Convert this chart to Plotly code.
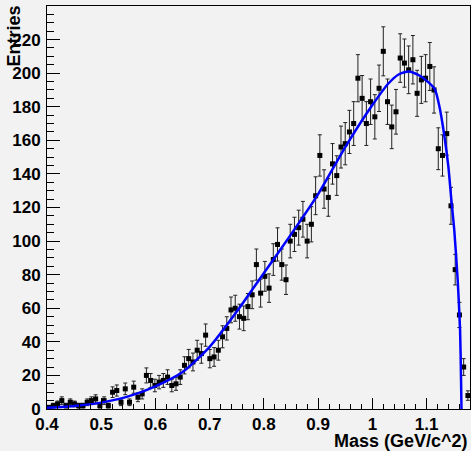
import numpy as np
import plotly.graph_objects as go

# Histogram binning: 100 bins over the mass window
mass_low = 0.4
mass_high = 1.18
n_bins = 100

entries = [
    1, 2, 3, 5, 2, 4, 3, 2, 2, 4,
    5, 6, 2, 5, 2, 10, 11, 4, 12, 4,
    13, 7, 9, 20, 17, 14, 16, 17, 19, 14,
    15, 19, 26, 30, 28, 35, 33, 44, 30, 31,
    35, 43, 48, 59, 60, 55, 54, 61, 68, 86,
    69, 79, 72, 89, 98, 86, 77, 100, 104, 108,
    113, 100, 110, 127, 151, 131, 126, 146, 139, 156,
    158, 165, 170, 197, 185, 170, 183, 174, 191, 213,
    183, 168, 177, 209, 206, 202, 208, 188, 196, 197,
    204, 190, 155, 151, 164, 121, 83, 56, 25, 8,
]

# Fitted curve, sampled along the mass axis
fit_mass = [0.400, 0.450, 0.500, 0.550, 0.600, 0.650, 0.700, 0.750, 0.800,
            0.850, 0.900, 0.950, 1.000, 1.030, 1.050, 1.068, 1.090, 1.1146,
            1.1238, 1.133, 1.1402, 1.1452, 1.151, 1.1573, 1.1617, 1.1635, 1.1643]
fit_entries = [0.8, 1.8, 3.8, 7.5, 13.5, 22, 37, 58, 81,
               104, 128, 156, 181, 194, 199.5, 201, 198, 190.8,
               179.8, 162, 144, 126, 106.6, 76.8, 47.1, 17.4, 0]

edges = np.linspace(mass_low, mass_high, n_bins + 1)
centers = 0.5 * (edges[:-1] + edges[1:])
counts = np.array(entries, dtype=float)
errors = np.sqrt(counts)

font_family = "Liberation Sans"

fig = go.Figure()

fig.add_trace(go.Scatter(
    x=centers, y=counts,
    mode="markers",
    marker=dict(symbol="square", size=5, color="black"),
    error_y=dict(type="data", array=errors, visible=True,
                 color="#222222", thickness=1, width=2),
    showlegend=False,
    hoverinfo="skip",
))

fig.add_trace(go.Scatter(
    x=fit_mass, y=fit_entries,
    mode="lines",
    line=dict(color="#0000ff", width=2.5, shape="spline", smoothing=0.6),
    showlegend=False,
    hoverinfo="skip",
))

tick_font = dict(family=font_family, size=17, color="black", weight="bold")

fig.update_layout(
    width=471, height=451,
    margin=dict(l=47, r=1, t=6, b=42),
    paper_bgcolor="#f2f2f2",
    plot_bgcolor="#f2f2f2",
    xaxis=dict(
        range=[mass_low, mass_high],
        dtick=0.1, tick0=0.4,
        ticks="inside", ticklen=11, tickwidth=1, tickcolor="black",
        minor=dict(dtick=0.02, ticks="inside", ticklen=5, tickcolor="black", tickwidth=1),
        showline=True, linecolor="black", linewidth=1, mirror=True,
        showgrid=False, zeroline=False,
        tickfont=tick_font,
    ),
    yaxis=dict(
        range=[0, 240],
        dtick=20, tick0=0,
        ticks="inside", ticklen=13, tickwidth=1, tickcolor="black",
        minor=dict(dtick=5, ticks="inside", ticklen=7, tickcolor="black", tickwidth=1),
        showline=True, linecolor="black", linewidth=1, mirror=True,
        showgrid=False, zeroline=False,
        tickfont=tick_font,
        ticklabelstandoff=2,
    ),
    annotations=[
        dict(text="Mass (GeV/c^2)", xref="paper", yref="paper",
             x=1.0, y=-0.079, xanchor="right", yanchor="middle",
             showarrow=False,
             font=dict(family=font_family, size=18, color="black", weight="bold")),
        dict(text="Entries", xref="paper", yref="paper",
             x=-0.0775, y=0.925, xanchor="center", yanchor="middle",
             textangle=-90, showarrow=False,
             font=dict(family=font_family, size=18, color="black", weight="bold")),
    ],
)

fig.write_html("out.html")
